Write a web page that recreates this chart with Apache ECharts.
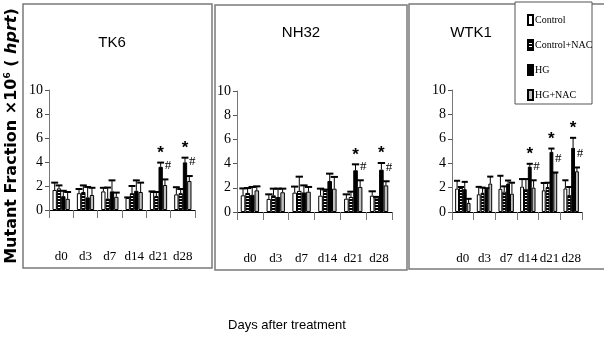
<!DOCTYPE html>
<html>
<head>
<meta charset="utf-8">
<script src="https://cdn.jsdelivr.net/npm/echarts@6/dist/echarts.min.js"></script>
<style>
html, body { margin: 0; padding: 0; background: #fff; }
#chart { width: 604px; height: 337px; }
</style>
</head>
<body>
<div id="chart"></div>
<script>
var days = ['d0', 'd3', 'd7', 'd14', 'd21', 'd28']
var groups = ['Control', 'Control+NAC', 'HG', 'HG+NAC']
var yMin = 0
var yMax = 10
var yStep = 2

// TK6
var tk6Ctrl = [1.67, 1.4, 1.55, 1.0, 1.5, 1.3]
var tk6CtrlErr = [2.28, 1.75, 1.85, 1.05, 1.55, 1.9]
var tk6Cnac = [1.8, 1.5, 0.95, 1.4, 1.17, 1.4]
var tk6CnacErr = [2.05, 2.05, 1.87, 2.0, 1.5, 1.75]
var tk6Hg = [1.15, 1.05, 1.55, 1.6, 3.6, 3.97]
var tk6HgErr = [1.6, 1.92, 2.47, 2.47, 3.95, 4.36]
var tk6Hgnac = [0.93, 1.25, 1.1, 1.5, 2.08, 2.42]
var tk6HgnacErr = [1.5, 1.85, 1.45, 2.28, 2.55, 2.83]
var tk6Star = [0, 0, 0, 0, 1, 1]
var tk6Hash = [0, 0, 0, 0, 1, 1]

// NH32
var nh32Ctrl = [1.38, 1.08, 1.6, 1.35, 1.1, 1.35]
var nh32CtrlErr = [1.95, 1.46, 2.1, 1.93, 1.46, 1.71]
var nh32Cnac = [1.58, 1.38, 1.75, 1.79, 1.24, 1.2]
var nh32CnacErr = [1.98, 1.93, 2.92, 1.85, 1.68, 1.25]
var nh32Hg = [1.42, 1.24, 1.62, 2.56, 3.45, 3.5]
var nh32HgErr = [2.07, 1.93, 2.2, 3.17, 3.94, 4.05]
var nh32Hgnac = [1.79, 1.63, 1.68, 1.93, 2.07, 2.2]
var nh32HgnacErr = [2.12, 1.93, 2.07, 2.9, 2.62, 2.54]
var nh32Star = [0, 0, 0, 0, 1, 1]
var nh32Hash = [0, 0, 0, 0, 1, 1]

// WTK1
var wtk1Ctrl = [1.92, 1.45, 1.9, 2.08, 1.78, 1.93]
var wtk1CtrlErr = [2.56, 2.06, 2.97, 2.7, 2.38, 2.6]
var wtk1Cnac = [2.0, 1.58, 1.67, 1.9, 2.05, 1.4]
var wtk1CnacErr = [2.05, 2.0, 2.1, 2.7, 2.4, 2.05]
var wtk1Hg = [1.87, 1.9, 2.33, 3.72, 4.93, 5.26]
var wtk1HgErr = [2.47, 1.95, 2.58, 3.95, 5.2, 6.08]
var wtk1Hgnac = [0.75, 2.33, 1.5, 2.0, 3.24, 3.34]
var wtk1HgnacErr = [1.08, 2.9, 2.4, 2.6, 3.24, 3.65]
var wtk1Star = [0, 0, 0, 1, 1, 1]
var wtk1Hash = [0, 0, 0, 1, 1, 1]

var panels = [
  { name: 'TK6', means: [tk6Ctrl, tk6Cnac, tk6Hg, tk6Hgnac], errs: [tk6CtrlErr, tk6CnacErr, tk6HgErr, tk6HgnacErr], star: tk6Star, hash: tk6Hash },
  { name: 'NH32', means: [nh32Ctrl, nh32Cnac, nh32Hg, nh32Hgnac], errs: [nh32CtrlErr, nh32CnacErr, nh32HgErr, nh32HgnacErr], star: nh32Star, hash: nh32Hash },
  { name: 'WTK1', means: [wtk1Ctrl, wtk1Cnac, wtk1Hg, wtk1Hgnac], errs: [wtk1CtrlErr, wtk1CnacErr, wtk1HgErr, wtk1HgnacErr], star: wtk1Star, hash: wtk1Hash }
]

// layout
var grids = [
  { left: 49, top: 90, width: 146, height: 120 },
  { left: 237, top: 91, width: 155, height: 121 },
  { left: 452, top: 90, width: 130, height: 122 }
]
var boxes = [
  { x: 23, y: 4, width: 189, height: 264 },
  { x: 215, y: 5, width: 192, height: 265 },
  { x: 409, y: 4, width: 200, height: 265 }
]
var titlePos = [[112, 43], [301, 33], [471, 33]]
var catGap = 0.29
var serif = "'Liberation Serif', 'DejaVu Serif', serif"
var sans = "'Liberation Sans', Arial, sans-serif"

// horizontal stripes for Control+NAC
var stripe = document.createElement('canvas')
stripe.width = 4
stripe.height = 3
var sctx = stripe.getContext('2d')
sctx.fillStyle = '#fff'
sctx.fillRect(0, 0, 4, 3)
sctx.fillStyle = '#000'
sctx.fillRect(0, 1, 4, 2)

var fills = ['#ffffff', { image: stripe, repeat: 'repeat' }, '#000000', '#c0c0c0']

function barW (api) {
  return api.size([1, 0])[0] * (1 - catGap) / 4
}

function renderErr (params, api) {
  var c = api.value(0)
  var s = api.value(1)
  var top = api.coord([c, api.value(2)])
  var end = api.coord([c, api.value(3)])
  var bw = barW(api)
  var x = top[0] + (s - 1.5) * bw
  var cap = bw * 0.8
  return {
    type: 'group',
    children: [
      { type: 'line', shape: { x1: x, y1: top[1], x2: x, y2: end[1] }, style: { stroke: '#000', lineWidth: 1 } },
      { type: 'line', shape: { x1: x - cap, y1: end[1], x2: x + cap, y2: end[1] }, style: { stroke: '#000', lineWidth: 2 } }
    ]
  }
}

function renderStar (params, api) {
  var p = api.coord([api.value(0), api.value(1)])
  var bw = barW(api)
  return {
    type: 'text',
    x: p[0] + 0.5 * bw,
    y: p[1] - 1,
    style: { text: '*', font: 'bold 17px ' + sans, fill: '#000', align: 'center', verticalAlign: 'bottom' }
  }
}

function renderHash (params, api) {
  var p = api.coord([api.value(0), api.value(1)])
  var bw = barW(api)
  return {
    type: 'text',
    x: p[0] + 1.5 * bw + 3,
    y: p[1] - 14,
    style: { text: '#', font: '13px ' + serif, fill: '#000', align: 'center', verticalAlign: 'middle' }
  }
}

var xAxes = []
var yAxes = []
var series = []
var graphics = []

panels.forEach(function (pn, i) {
  xAxes.push({
    type: 'category',
    gridIndex: i,
    data: days,
    axisLine: { lineStyle: { color: '#000', width: 1 } },
    axisTick: { show: true, length: 8, lineStyle: { color: '#777' } },
    axisLabel: { interval: 0, margin: 40, color: '#000', fontFamily: serif, fontSize: 13 }
  })
  yAxes.push({
    type: 'value',
    gridIndex: i,
    min: yMin,
    max: yMax,
    interval: yStep,
    splitLine: { show: false },
    axisLine: { show: true, lineStyle: { color: '#777', width: 1 } },
    axisTick: { show: true, length: 4, lineStyle: { color: '#555' } },
    axisLabel: { margin: 6, color: '#000', fontFamily: serif, fontSize: 14 }
  })
  var errData = []
  groups.forEach(function (g, s) {
    series.push({
      name: g,
      type: 'bar',
      xAxisIndex: i,
      yAxisIndex: i,
      barGap: '0%',
      barCategoryGap: '29%',
      itemStyle: { color: fills[s], borderColor: '#000', borderWidth: 1 },
      data: pn.means[s]
    })
    pn.means[s].forEach(function (v, c) {
      errData.push([c, s, v, pn.errs[s][c]])
    })
  })
  series.push({ type: 'custom', xAxisIndex: i, yAxisIndex: i, z: 3, clip: false, renderItem: renderErr, data: errData })
  var starData = []
  var hashData = []
  days.forEach(function (d, c) {
    if (pn.star[c]) starData.push([c, pn.errs[2][c]])
    if (pn.hash[c]) hashData.push([c, pn.errs[3][c]])
  })
  series.push({ type: 'custom', xAxisIndex: i, yAxisIndex: i, z: 4, clip: false, renderItem: renderStar, data: starData })
  series.push({ type: 'custom', xAxisIndex: i, yAxisIndex: i, z: 4, clip: false, renderItem: renderHash, data: hashData })

  graphics.push({
    type: 'rect',
    shape: boxes[i],
    style: { fill: 'none', stroke: '#7a7a7a', lineWidth: 1.5 },
    silent: true
  })
  graphics.push({
    type: 'text',
    x: titlePos[i][0],
    y: titlePos[i][1],
    style: { text: pn.name, font: '15px ' + sans, fill: '#000', align: 'center', verticalAlign: 'middle' }
  })
})

// legend box
graphics.push({
  type: 'rect',
  shape: { x: 515, y: 2, width: 77, height: 102 },
  style: { fill: '#fff', stroke: '#555', lineWidth: 1 },
  z: 0
})
// y axis title
graphics.push({
  type: 'text',
  x: 12,
  y: 136,
  rotation: Math.PI / 2,
  style: {
    text: 'Mutant Fraction ×10{sup|6} ( {it|hprt})',
    font: "bold 16px 'DejaVu Sans', sans-serif",
    fill: '#000',
    align: 'center',
    verticalAlign: 'middle',
    rich: {
      sup: { fontSize: 9, fontWeight: 'bold', fontFamily: 'DejaVu Sans', verticalAlign: 'top', padding: [0, 0, 8, 0] },
      it: { fontSize: 16, fontWeight: 'bold', fontStyle: 'italic', fontFamily: 'DejaVu Sans' }
    }
  }
})
// x axis title
graphics.push({
  type: 'text',
  x: 287,
  y: 325,
  style: { text: 'Days after treatment', font: '13px ' + sans, fill: '#000', align: 'center', verticalAlign: 'middle' }
})

var chart = echarts.init(document.getElementById('chart'))
chart.setOption({
  animation: false,
  backgroundColor: '#fff',
  legend: {
    data: groups,
    orient: 'vertical',
    left: 522,
    top: 9,
    itemWidth: 5,
    itemHeight: 10,
    itemGap: 13,
    selectedMode: false,
    icon: 'rect',
    textStyle: { fontFamily: serif, fontSize: 10, color: '#000', padding: [0, 0, 0, -3] }
  },
  grid: grids,
  xAxis: xAxes,
  yAxis: yAxes,
  series: series,
  graphic: graphics
})
</script>
</body>
</html>
